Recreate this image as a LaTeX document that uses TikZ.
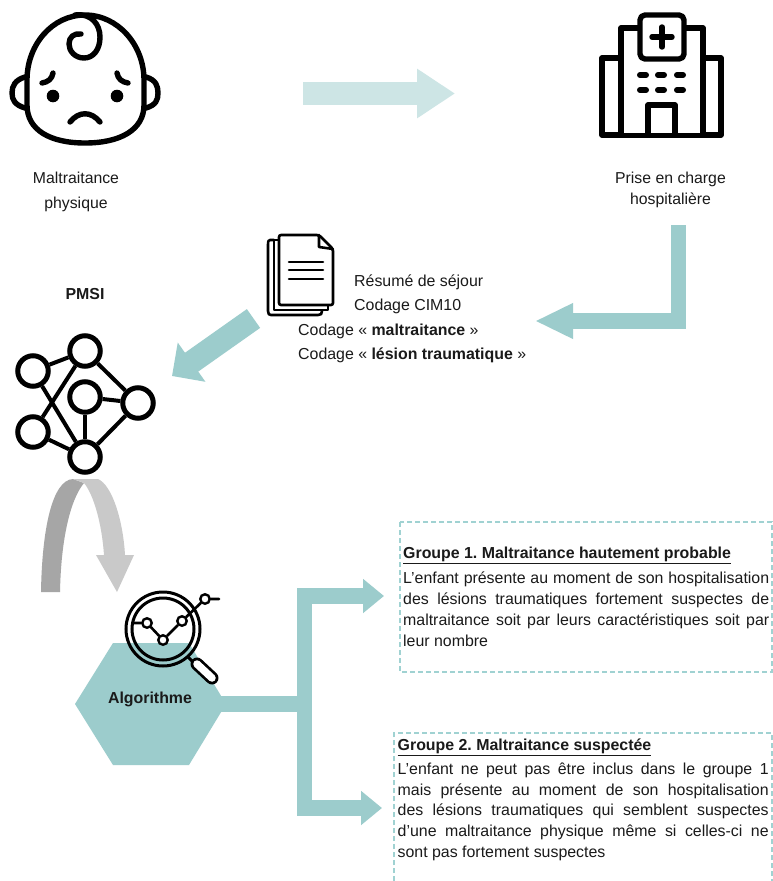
\documentclass[tikz,border=0pt]{standalone}
\usepackage{fontspec}
\setmainfont{Liberation Sans}
\usetikzlibrary{arrows.meta}
\definecolor{teal1}{HTML}{9CCCCC}
\definecolor{teal2}{HTML}{CDE5E5}
\definecolor{dashc}{HTML}{A0D2D2}
\definecolor{grayd}{HTML}{A6A6A6}
\definecolor{grayl}{HTML}{C9C9C9}
\definecolor{txt}{HTML}{1A1A1A}
\tikzset{
  base/.style={text=txt,inner sep=0pt,font=\fontsize{15.9}{20}\selectfont},
  boldlab/.style={base,font=\fontsize{15.9}{20}\selectfont\bfseries},
  body/.style={base,anchor=north west,font=\fontsize{15.9}{20.8}\selectfont},
  head/.style={base,anchor=west,font=\fontsize{15.9}{20}\selectfont\bfseries},
  bigarrow/.style={draw=teal1,line width=15.5pt,miter limit=10,-{Triangle[length=#1]}},
  icon/.style={draw=black,line width=5.4pt,line cap=round,line join=round},
  thin icon/.style={draw=black,line width=2.6pt,line join=round,line cap=round},
  dashbox/.style={draw=dashc,line width=1.2pt,dash pattern=on 5pt off 3pt},
  netnode/.style={circle,draw=black,line width=5pt,minimum size=30.5pt,inner sep=0pt},
  netedge/.style={draw=black,line width=4pt},
  dot/.style={circle,draw=black,fill=white,line width=2.4pt,minimum size=9.5pt,inner sep=0pt}
}
\newcommand{\bodytext}[2]{\parbox[t]{#1pt}{\parindent=0pt\frenchspacing\hyphenpenalty=10000\tolerance=9999\emergencystretch=20pt #2}}
\begin{document}
\begin{tikzpicture}[x=1pt,y=-1pt]
\useasboundingbox (0,0) rectangle (773,881);
\fill[white] (0,0) rectangle (773,881);

% baby
\draw[icon] (85,15) .. controls (118,15) and (144,45) .. (144,80) -- (144,105)
  .. controls (144,130) and (120,143) .. (85,143) .. controls (50,143) and (27,130) .. (27,105)
  -- (27,80) .. controls (27,45) and (52,15) .. (85,15);
\draw[icon] (25,77) .. controls (15,80) and (12,86) .. (12,93) .. controls (12,100) and (15,105) .. (25,108);
\draw[icon] (146,77) .. controls (156,80) and (158,86) .. (158,93) .. controls (158,100) and (156,105) .. (146,108);
\draw[icon] (75,15) .. controls (92,13) and (100,25) .. (100,37) .. controls (100,50) and (93,58) .. (84,58)
  .. controls (75,58) and (69,51) .. (69,44) .. controls (69,37) and (74,33) .. (81,34);
\draw[icon] (53,73) .. controls (52,79) and (48,82) .. (42,83);
\draw[icon] (117,73) .. controls (118,79) and (122,82) .. (128,83);
\fill (53,96) circle (6.3);
\fill (117,96) circle (6.3);
\draw[icon] (70,122) .. controls (79,111) and (91,111) .. (100,122);
\node[base,align=center,font=\fontsize{15.8}{25}\selectfont] (baby) at (76,191.5) {Maltraitance\\physique};

% hospital
\draw[icon] (602,58) rectangle (721,135);
\fill[white] (622,30) rectangle (702,133);
\draw[icon] (621,135) -- (621,28) -- (703,28) -- (703,135);
\draw[icon,fill=white,rounded corners=5pt] (640,15) rectangle (684,59);
\draw[icon] (662,27) -- (662,47) (652,37) -- (672,37);
\foreach \yy in {75,90}{\foreach \xx in {640,658,677}{\draw[icon,line width=6pt] (\xx,\yy) -- (\xx+6,\yy);}}
\draw[icon] (648,135) -- (648,105) -- (675,105) -- (675,135);
\node[base,align=center,font=\fontsize{15.8}{21.5}\selectfont] (hosp) at (670.5,190) {Prise en charge\\hospitalière};

% arrow 1
\coordinate (a1s) at (303,93.5);
\coordinate (a1e) at (455,93.5);
\draw[draw=teal2,line width=23pt,-{Triangle[length=38pt,width=47pt]}] (a1s) -- (a1e);

% arrow 2
\coordinate (a2s) at (678.5,225);
\coordinate (a2m) at (678.5,321);
\coordinate (a2e) at (535,321);
\draw[bigarrow={38pt,width=33pt}] (a2s) -- (a2m) -- (a2e);

% document
\draw[thin icon] (274,240) -- (270,240) .. controls (268.5,240) and (268,241) .. (268,245) -- (268,311) .. controls (268,314) and (269,315) .. (271,315) -- (318,315) .. controls (321,315) and (322,314) .. (322,311);
\draw[thin icon] (279,240) -- (274,240) -- (274,310) -- (328,310) -- (328,305);
\draw[thin icon,fill=white,rounded corners=2pt] (279,235) -- (319,235) -- (333,249) -- (333,305) -- (279,305) -- cycle;
\draw[thin icon] (319,235) -- (319,247) -- (333,249);
\draw[thin icon] (289,262) -- (323,262) (289,270) -- (323,270) (289,279) -- (323,279);

\node[base,anchor=west] (t1) at (354,282) {Résumé de séjour};
\node[base,anchor=west] (t2) at (354,306) {Codage CIM10};
\node[base,anchor=west] (t3) at (298,331) {Codage « \textbf{maltraitance} »};
\node[base,anchor=west] (t4) at (298,355) {Codage « \textbf{lésion traumatique} »};

% arrow 3
\coordinate (a3s) at (253.5,318.5);
\coordinate (a3e) at (172,376);
\draw[draw=teal1,line width=23pt,-{Triangle[length=24pt,width=46.6pt]}] (a3s) -- (a3e);

\node[boldlab] (pmsi) at (85,294) {PMSI};

% network
\node[netnode] (n1) at (33,371) {};
\node[netnode] (n2) at (85,351) {};
\node[netnode] (n3) at (85,397) {};
\node[netnode] (n4) at (138,403) {};
\node[netnode] (n5) at (33,432) {};
\node[netnode] (n6) at (85,457) {};
\path[netedge] (n1) -- (n2);
\path[netedge] (n1) -- (n6);
\path[netedge] (n2) -- (n5);
\path[netedge] (n2) -- (n4);
\path[netedge] (n3) -- (n4);
\path[netedge] (n3) -- (n6);
\path[netedge] (n4) -- (n6);
\path[netedge] (n5) -- (n6);

% curved arrow
\fill[grayd] (41,592) .. controls (42,530) and (52,480) .. (73,479) -- (84,483)
  .. controls (70,500) and (61,540) .. (60,592) -- cycle;
\fill[grayl] (73,479) -- (98,479) .. controls (112,485) and (123,520) .. (125,555)
  -- (134,555) -- (117,592) -- (96,555) -- (104,555) .. controls (102,525) and (94,495) .. (84,483) -- cycle;

% hexagon
\coordinate (h1) at (75,704);
\coordinate (h2) at (113,643);
\coordinate (h3) at (189,643);
\coordinate (h4) at (226,704);
\coordinate (h5) at (189,765);
\coordinate (h6) at (113,765);
\coordinate (hc) at (212,704);
\fill[teal1] (h1) -- (h2) -- (h3) -- (h4) -- (h5) -- (h6) -- cycle;
\node[boldlab] (algo) at (150,699) {Algorithme};

% branching arrows
\coordinate (j) at (304.5,704);
\coordinate (ju) at (304.5,596);
\coordinate (jd) at (304.5,808);
\coordinate (b1) at (384,596);
\coordinate (b2) at (382,808);
\draw[bigarrow={21pt,width=33pt}] (hc) -- (j) -- (ju) -- (b1);
\draw[bigarrow={21pt,width=33pt}] (j) -- (jd) -- (b2);

% magnifier
\draw[black,line width=3pt] (163,629) circle (37);
\draw[black,line width=3pt] (163,629) circle (31);
\draw[black,line width=3pt] (188,657) -- (193,662);
\draw[black,line width=13pt,line cap=round] (197,664) -- (212,678);
\draw[white,line width=7.5pt,line cap=round] (197,664) -- (212,678);
\coordinate (c0) at (134,623);
\coordinate (c5) at (219,599);
\node[dot] (c1) at (147,623) {};
\node[dot] (c2) at (163,640) {};
\node[dot] (c3) at (182,621) {};
\node[dot] (c4) at (205,599) {};
\draw[thin icon] (c0) -- (c1) -- (c2) -- (c3) -- (c4) -- (c5);

% group 1
\draw[dashbox] (400,522) rectangle (772,672);
\node[head] (g1) at (403,555.5) {\frenchspacing\underline{Groupe 1. Maltraitance hautement probable}};
\node[body] (g1b) at (403,572) {\bodytext{366}{L’enfant présente au moment de son hospitalisation\linebreak
des lésions traumatiques fortement suspectes de\linebreak
maltraitance soit par leurs caractéristiques soit par\linebreak
leur nombre}};

% group 2
\draw[dashbox] (394,881) -- (394,733) -- (772,733) -- (772,881);
\node[head] (g2) at (397.5,747.5) {\frenchspacing\underline{Groupe 2. Maltraitance suspectée}};
\node[body] (g2b) at (397.5,762.5) {\bodytext{371}{L’enfant ne peut pas être inclus dans le groupe 1\linebreak
mais présente au moment de son hospitalisation\linebreak
des lésions traumatiques qui semblent suspectes\linebreak
d’une maltraitance physique même si celles-ci ne\linebreak
sont pas fortement suspectes}};
\end{tikzpicture}
\end{document}
